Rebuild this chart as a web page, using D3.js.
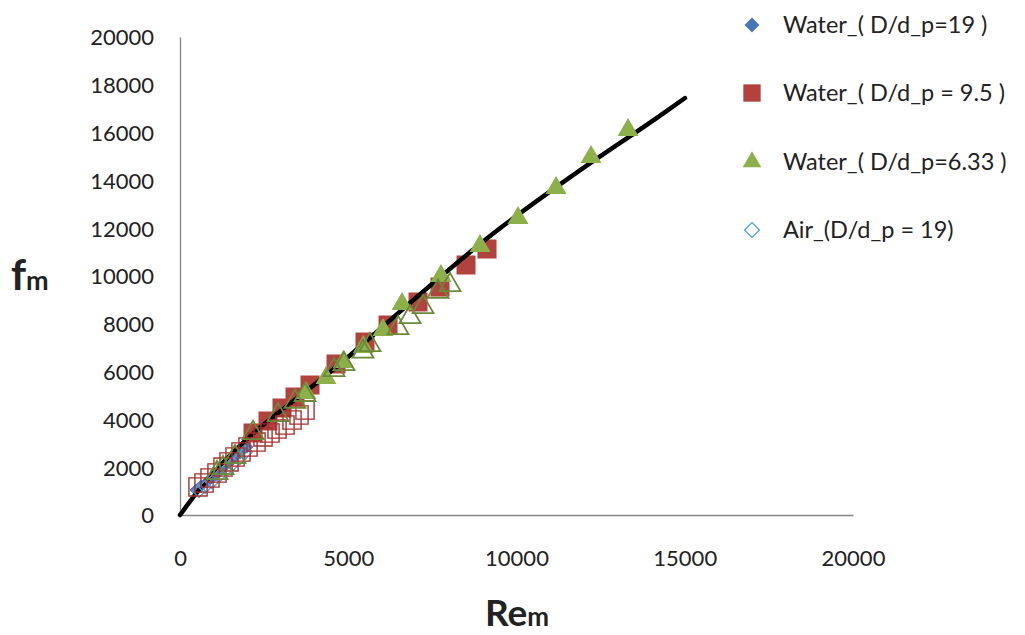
<!DOCTYPE html>
<html><head><meta charset="utf-8">
<script src="https://cdn.jsdelivr.net/npm/d3@7"></script>
<style>body{margin:0;background:#fff}svg{display:block}text{font-family:Lato,"Open Sans",sans-serif;fill:#222}</style>
</head><body><svg id="c" width="1025" height="635"></svg>
<script>
const xTicks=[0,5000,10000,15000,20000];
const yTicks=[0,2000,4000,6000,8000,10000,12000,14000,16000,18000,20000];
const legendLabels=["Water_( D/d_p=19 )","Water_( D/d_p = 9.5 )","Water_( D/d_p=6.33 )","Air_(D/d_p = 19)"];
const fitLine=[[0,0],[446,837],[4954,6556],[9510,11995],[11689,14226],[14364,16807],[15008,17447]];
const water19=[[476,1046],[624,1213],[802,1381],[981,1590],[1189,1841],[1367,2092],[1575,2343],[1783,2594],[1991,2845]];
const water95=[[9124,11129],[8500,10460],[7727,9540],[7073,8912],[6182,7950],[5498,7238],[4636,6318],[3864,5439],[3418,4937],[3031,4477],[2615,3933],[2170,3431]];
const water633=[[13315,16108],[12215,14979],[11175,13682],[10045,12426],[8916,11255],[7757,10000],[6598,8828],[6033,7740],[5448,7029],[4854,6402],[4339,5732],[3745,5104]];
const air19=[[565,1004],[743,1172],[951,1381],[1159,1632],[1367,1883],[1575,2134],[1783,2385],[1962,2636]];
const air95=[[535,1172],[713,1339],[892,1548],[1100,1757],[1278,2008],[1456,2218],[1635,2427],[1813,2636],[2021,2845],[2259,3054],[2467,3264],[2675,3431],[2883,3598],[3121,3766],[3329,3975],[3537,4184],[3715,4393]];
const air633=[[8024,9623],[7668,9343],[7222,8703],[6836,8282],[6479,7824],[5646,7113],[5439,6834],[4874,6318],[4577,6067],[3715,5021],[3418,4741],[2913,4184],[2170,3431],[1635,2427],[1278,1966],[1100,1757]];

const svg=d3.select("#c");
const x=d3.scaleLinear().domain([0,20000]).range([180,853]);
const y=d3.scaleLinear().domain([0,20000]).range([515,37]);

const xa=svg.append("g").attr("transform","translate(0,515)").call(d3.axisBottom(x).tickValues(xTicks).tickSize(0).tickPadding(0).tickFormat(d3.format("d")));
xa.select(".domain").attr("stroke","#868686").attr("stroke-width",1.3);
xa.selectAll("text").attr("dy",null).attr("y",51).style("font-size","22px").attr("fill","#222");
const ya=svg.append("g").attr("transform","translate(180,0)").call(d3.axisLeft(y).tickValues(yTicks).tickSize(0).tickPadding(26).tickFormat(d3.format("d")));
ya.select(".domain").attr("stroke","#868686").attr("stroke-width",1.3);
ya.selectAll("text").attr("dy","0.36em").style("font-size","22px").attr("fill","#222");

const sq=d3.symbol().type(d3.symbolSquare);
const tri=d3.symbol().type(d3.symbolTriangle);
function pts(data,gen,size,fill,stroke,sw,rot){
  svg.append("g").selectAll("path").data(data).join("path")
   .attr("d",gen.size(size)())
   .attr("transform",d=>`translate(${x(d[0])},${y(d[1])})`+(rot?" rotate(45)":""))
   .attr("fill",fill).attr("stroke",stroke).attr("stroke-width",sw);
}
pts(water19,sq,85,"#4677B8","none",0,true);
pts(water95,sq,361,"#B3423F","none",0,false);
svg.append("path").datum(fitLine).attr("d",d3.line().curve(d3.curveMonotoneX).x(d=>x(d[0])).y(d=>y(d[1])))
  .attr("stroke","#000").attr("stroke-width",4.5).attr("fill","none").attr("stroke-linecap","round");
pts(water633,tri,190,"#8DB04B","none",0,false);
pts(air19,sq,85,"none","#4EA0E0",1.3,true);
pts(air95,sq,330,"none","#A8322F",1.4,false);
pts(air633,tri,190,"none","#6A8A3A",1.8,false);

const lg=svg.append("g");
const ly=[25,93,162,230];
const lstyle=[{g:sq,s:110,f:"#4677B8",st:"none",r:true},{g:sq,s:300,f:"#B3423F",st:"none",r:false},{g:tri,s:150,f:"#8DB04B",st:"none",r:false},{g:sq,s:110,f:"none",st:"#4EA0E0",r:true}];
legendLabels.forEach((t,i)=>{
  const s=lstyle[i];
  lg.append("path").attr("d",s.g.size(s.s)()).attr("transform",`translate(752,${ly[i]})`+(s.r?" rotate(45)":""))
    .attr("fill",s.f).attr("stroke",s.st).attr("stroke-width",1.3);
  lg.append("text").attr("x",783).attr("y",ly[i]).attr("dy","0.36em").style("font-size","23.5px").text(t);
});

const yt=svg.append("text").attr("x",11).attr("y",290).style("font-weight","bold").style("font-size","42px");
yt.append("tspan").text("f");
yt.append("tspan").style("font-size","27px").text("m");
const xt=svg.append("text").attr("x",517).attr("y",626).attr("text-anchor","middle").style("font-weight","bold").style("font-size","37px");
xt.append("tspan").text("Re");
xt.append("tspan").style("font-size","26px").text("m");
</script></body></html>
